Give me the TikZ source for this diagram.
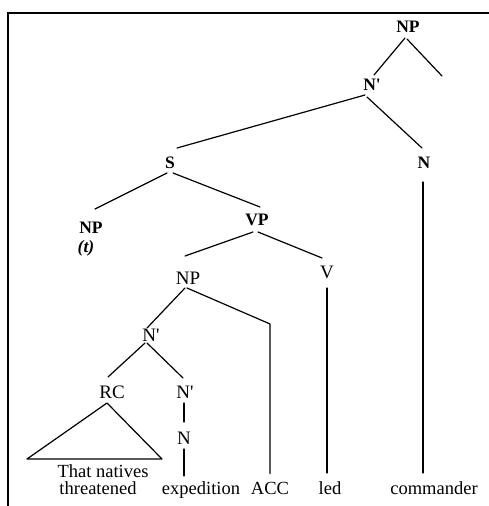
\documentclass[tikz,border=0pt]{standalone}
\usepackage{fontspec}
\setmainfont{Liberation Serif}
\usetikzlibrary{calc}
\begin{document}
\begin{tikzpicture}[x=1pt,y=-1pt,
  lab/.style={inner sep=0pt,font=\fontsize{19}{20}\selectfont},
  blab/.style={inner sep=0pt,font=\fontsize{17.5}{20}\selectfont\bfseries},
  word/.style={inner sep=0pt,anchor=base,font=\fontsize{18.5}{20}\selectfont},
  br/.style={line width=1.2pt,line cap=round,line join=round}]
\useasboundingbox (0,0) rectangle (489,506);
\draw[line width=1.4pt] (8,506) -- (8,13) -- (489,13);
% labels
\node[blab] (np1) at (408,27) {NP};
\node[blab] (n1) at (372,85) {N\textquotesingle};
\node[blab] (s) at (170,163) {S};
\node[blab] (nn1) at (424,163) {N};
\node[blab] (npt) at (91,228) {NP};
\node[blab] (t) at (86,248) {\itshape(t)};
\node[blab] (vp) at (257,220) {VP};
\node[lab] (np2) at (188,278) {NP};
\node[lab] (v) at (327,272) {V};
\node[lab] (n2) at (151,335) {N\textquotesingle};
\node[lab] (rc) at (112,392) {RC};
\node[lab] (n3) at (185,392) {N\textquotesingle};
\node[lab] (n4) at (184,438) {N};
\coordinate (e1) at (442,76);
% words
\node[word] (tn1) at (103,477) {That natives};
\node[word] (tn2) at (98,494) {threatened};
\node[word] (exp) at (201,494) {expedition};
\node[word] (acc) at (270,494) {ACC};
\node[word] (led) at (330,494) {led};
\node[word] (com) at (434,494) {commander};
% branches
\draw[br] ($(np1)+(-3,11)$) -- ($(n1)+(2,-10)$);
\draw[br] ($(np1)+(-1,12)$) -- (e1);
\draw[br] ($(n1)+(-7,10)$) -- ($(s)+(7,-15)$);
\draw[br] ($(n1)+(-5,12)$) -- ($(nn1)+(-2,-15)$);
\draw[br] ($(s)+(-3,10)$) -- ($(npt)+(4,-19)$);
\draw[br] ($(s)+(3,10)$) -- ($(vp)+(3,-13)$);
\draw[br] ($(vp)+(-4,12)$) -- ($(np2)+(-3,-22)$);
\draw[br] ($(vp)+(1,12)$) -- ($(v)+(-5,-14)$);
\draw[br] ($(nn1)+(-1,19)$) -- ($(nn1.center |- com.north)+(-1,-8)$);
\draw[br] ($(v)+(0,16)$) -- ($(v.center |- led.north)+(0,-8)$);
\draw[br] ($(np2)+(-1,10)$) -- ($(acc)+(0,-164)$) -- ($(acc.north)+(0,-8)$);
\draw[br] ($(np2)+(-3,10)$) -- ($(n2)+(-4,-7)$);
\draw[br] ($(n2)+(-6,8)$) -- ($(rc)+(-4,-15)$);
\draw[br] ($(n2)+(-4,8)$) -- ($(n3)+(-2,-14)$);
\draw[br] ($(n3)+(-1,11)$) -- ($(n4)+(0,-16)$);
\draw[br] ($(n4)+(0,11)$) -- ($(n4.center |- exp.north)+(0,-5)$);
\draw[br] ($(rc)+(-5,11)$) -- ($(rc)+(-85,67)$) -- ($(rc)+(50,67)$) -- cycle;
\end{tikzpicture}
\end{document}
